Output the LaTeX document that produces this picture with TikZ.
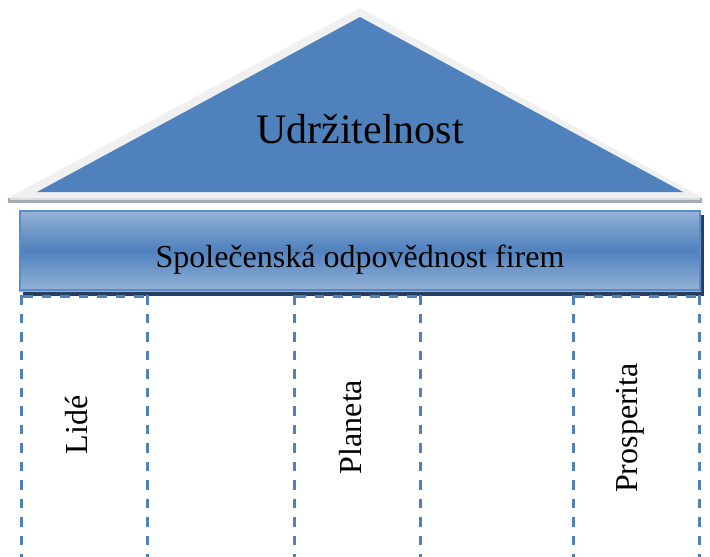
\documentclass[tikz,border=0pt]{standalone}
\usepackage{fontspec}
\setmainfont{Liberation Serif}
\begin{document}
\begin{tikzpicture}[x=1pt,y=-1pt,
  roofblue/.style={fill=rblue},
  label/.style={inner sep=0pt,font=\fontsize{32}{36}\selectfont,text=black},
  pillarline/.style={draw=pblue,line width=3pt,dash pattern=on 9.5pt off 9pt}]
\definecolor{rblue}{HTML}{4F81BD}
\definecolor{pblue}{HTML}{4F81BD}
\definecolor{rimgray}{HTML}{F0F0F0}
\definecolor{eavegray}{HTML}{A3ABB6}
\definecolor{barlight}{HTML}{95B3D7}
\definecolor{barborder}{HTML}{5B8BC9}
\definecolor{barshadow}{HTML}{243F60}
\useasboundingbox (0,0) rectangle (710,557);
% roof: light rim, eave strip and blue gable
\fill[rimgray] (8,198) -- (360,8) -- (703,198) -- cycle;
\fill[eavegray] (8,198) rectangle (702,203);
\fill[white!60!eavegray] (10,198) rectangle (700,199.5);
\fill[roofblue] (37,192) -- (360,17) -- (683,192) -- cycle;
\node[inner sep=0pt,font=\fontsize{42}{48}\selectfont,anchor=base] (roof) at (360,143) {Udržitelnost};
% beam with shadow
\fill[barshadow] (23,215) rectangle (704,295.5);
\shade[top color=barlight,bottom color=barlight,middle color=rblue] (19,210) rectangle (701,291);
\draw[barborder,line width=2pt] (20,211) rectangle (700,290);
\node[label,anchor=base] (beam) at (360,267) {Společenská odpovědnost firem};
% pillars (dashed outlines)
\foreach \l/\r/\n in {21/147/a,294/420/b,573/699/c}{
  \coordinate (\n tl) at (\l,296);
  \coordinate (\n tr) at (\r,296);
  \coordinate (\n bl) at (\l,560);
  \coordinate (\n br) at (\r,560);
  \draw[pillarline] ([xshift=2pt]\n tl) -- ([xshift=-2pt]\n tr);
  \draw[pillarline,dash phase=-4pt] ([yshift=5pt]\n tl) -- (\n bl);
  \draw[pillarline,dash phase=-4pt] ([yshift=5pt]\n tr) -- (\n br);
}
\node[label,rotate=90] (people) at (77,425) {Lidé};
\node[label,rotate=90] (planet) at (351,427) {Planeta};
\node[label,rotate=90] (prosperity) at (630,428) {Prosperita};
\end{tikzpicture}
\end{document}
